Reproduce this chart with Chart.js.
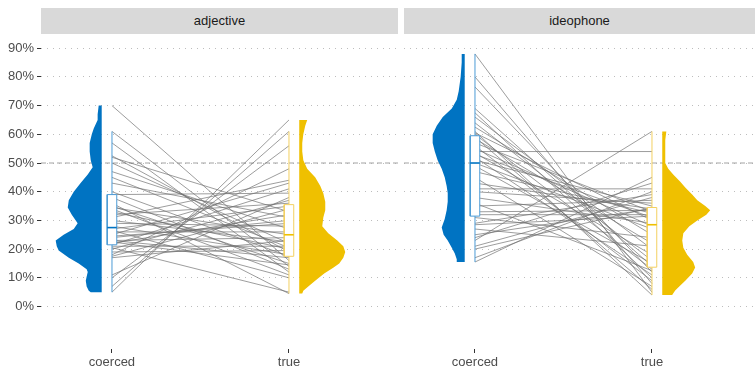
<!DOCTYPE html>
<html>
<head>
<meta charset="utf-8">
<script src="https://cdn.jsdelivr.net/npm/chart.js@4.4.0/dist/chart.umd.min.js"></script>
<style>
  body { margin: 0; background: #fff; width: 755px; height: 369px; overflow: hidden; position: relative;
         font-family: "Liberation Sans", Arial, sans-serif; }
  .strip { position: absolute; top: 8px; height: 26px; line-height: 26px; background: #d9d9d9;
           color: #1a1a1a; font-size: 13px; text-align: center; }
  canvas { position: absolute; top: 0; }
</style>
</head>
<body>
<div class="strip" style="left:41px;width:357px">adjective</div>
<div class="strip" style="left:404px;width:351px">ideophone</div>
<canvas id="left" width="398" height="369" style="left:0"></canvas>
<canvas id="right" width="351" height="369" style="left:404px"></canvas>
<script>
const categories = ['coerced', 'true'];
const panels = ['adjective', 'ideophone'];
const yTicks = [0, 10, 20, 30, 40, 50, 60, 70, 80, 90];
const refLine = 50;

// paired scores (%), coerced -> true, one entry per item
const adjCoerced = [70, 61, 57, 52.5, 52, 50, 47, 45, 43, 40, 39, 38, 36, 35, 34.5, 34, 33, 32, 31, 30, 29, 28,
  27, 26.5, 26, 25, 24.5, 24, 23, 23, 22.5, 22, 21.5, 21, 20.5, 20, 19, 18, 17.5, 17, 11, 10, 7, 5];
const adjTrue = [16, 14, 12, 19, 33, 22, 27, 20.5, 31, 17.5, 39.5, 13, 4.5, 15, 25, 11, 20, 36, 44, 22.5, 28, 18,
  35, 10, 26, 43, 29, 30, 17, 24, 14.5, 32, 41, 21, 5, 37, 19.5, 48, 34, 23, 38, 56, 61, 65];
const ideoCoerced = [88, 80, 76.5, 69, 67.5, 66, 64, 62.5, 61, 60.5, 60, 59, 58.5, 57, 56, 55, 54, 53.5, 53, 52, 51, 50,
  49, 47, 45, 43, 41, 40, 38, 36, 35, 33, 32, 31, 29, 28.5, 27, 25, 24, 23, 21, 20, 17, 15.5];
const ideoTrue = [5, 8, 12, 14, 10, 20, 16, 25, 4, 30, 13, 6, 22, 33, 9, 28, 54, 18, 31, 11, 35, 27,
  15, 32.5, 7, 34, 41, 36, 29, 12.5, 37, 33.5, 32, 24, 39, 31.5, 21, 34, 43, 61, 38, 34.5, 40, 45];

// box stats: lower whisker, q1, median, q3, upper whisker
const adjCoercedBox = [5, 21.5, 27.5, 39, 61];
const adjTrueBox = [4.5, 17.5, 25, 35.5, 61];
const ideoCoercedBox = [15.5, 31.5, 50, 59.5, 88];
const ideoTrueBox = [4, 13.7, 28.5, 34.5, 61];

// half-violin outlines: y (%) and density width (x units)
const adjCoercedVy = [70, 67, 65, 62, 60, 57, 54, 51, 48.5, 46, 43, 40, 37, 34.5, 32, 29, 27, 25, 23, 21, 19.5, 17, 15, 13, 12, 10.5, 9, 7, 5.5, 5];
const adjCoercedVw = [.017, .023, .023, .045, .056, .068, .068, .062, .051, .079, .119, .158, .186, .192, .169, .136, .158, .215, .26, .254, .243, .186, .13, .085, .079, .085, .09, .085, .073, .062];
const adjTrueVy = [65, 63, 60, 57, 54, 51, 48, 45, 42, 39.5, 36.5, 33.5, 31, 28, 25.5, 23, 21, 19, 17, 15, 13.5, 11.5, 9, 7, 5.5, 4.5];
const adjTrueVw = [.045, .034, .023, .017, .017, .023, .045, .09, .119, .136, .147, .147, .136, .13, .164, .215, .249, .26, .249, .226, .192, .141, .09, .051, .023, .017];
const ideoCoercedVy = [88, 85, 80, 75, 72, 69, 66, 63, 60, 57, 54, 51, 48, 45, 42, 39.5, 36.5, 33.5, 30.5, 27.5, 25, 23, 20.5, 18.5, 16.5, 15.5];
const ideoCoercedVw = [.017, .017, .023, .034, .045, .073, .124, .158, .181, .181, .169, .153, .13, .113, .102, .096, .096, .102, .113, .13, .119, .096, .073, .056, .045, .045];
const ideoTrueVy = [61, 58, 54, 50, 48, 46, 43.5, 41.5, 39, 37, 35, 33.5, 32, 30, 28, 25.5, 23, 20.5, 18, 15.5, 13.6, 11.5, 9, 7, 5.6, 4];
const ideoTrueVw = [.023, .017, .017, .017, .034, .062, .102, .13, .169, .198, .243, .271, .249, .198, .153, .119, .113, .119, .141, .175, .186, .169, .13, .096, .073, .056];

const BLUE = '#0073C2', YELLOW = '#EFC000';
const FONT = { family: '"Liberation Sans", Arial, sans-serif', size: 13 };

function seg(points, extra) {
  return Object.assign({ data: points, showLine: true, pointRadius: 0, borderWidth: 1, fill: false }, extra);
}

function violin(cx, side, ys, ws, color) {
  const edge = cx + side * 0.058;
  const pts = ys.map((y, i) => ({ x: edge + side * ws[i], y: y }));
  pts.unshift({ x: edge, y: ys[0] });
  pts.push({ x: edge, y: ys[ys.length - 1] });
  return seg(pts, { fill: 'shape', backgroundColor: color, borderWidth: 0, borderColor: 'rgba(0,0,0,0)', order: 3 });
}

function box(cx, s, line, mid) {
  const [lo, q1, md, q3, hi] = s, hw = 0.027;
  return [
    seg([{ x: cx - hw, y: md }, { x: cx + hw, y: md }], { borderColor: mid, borderWidth: 1.6, order: 0 }),
    seg([{ x: cx - hw, y: q1 }, { x: cx + hw, y: q1 }, { x: cx + hw, y: q3 }, { x: cx - hw, y: q3 }, { x: cx - hw, y: q1 }],
        { fill: 'shape', backgroundColor: '#fff', borderColor: line, order: 1 }),
    seg([{ x: cx, y: lo }, { x: cx, y: q1 }], { borderColor: line, order: 2 }),
    seg([{ x: cx, y: q3 }, { x: cx, y: hi }], { borderColor: line, order: 2 })
  ];
}

function makePanel(id, c, t, cBox, tBox, cVy, cVw, tVy, tVw, xMax, showY) {
  const xMin = 0.599;
  const ds = [];
  ds.push(...box(1, cBox, '#4c9bd6', BLUE));
  ds.push(...box(2, tBox, '#f3d060', YELLOW));
  ds.push(violin(1, -1, cVy, cVw, BLUE));
  ds.push(violin(2, 1, tVy, tVw, YELLOW));
  c.forEach((v, i) => ds.push(seg([{ x: 1, y: v }, { x: 2, y: t[i] }],
    { borderColor: 'rgba(110,110,110,0.68)', borderWidth: 1, order: 4 })));
  ds.push(seg([{ x: xMin, y: refLine }, { x: xMax, y: refLine }],
    { borderColor: '#a3a3a3', borderDash: [5, 3], order: 5 }));

  new Chart(document.getElementById(id), {
    type: 'scatter',
    data: { datasets: ds },
    options: {
      responsive: false,
      animation: false,
      events: [],
      layout: { padding: { top: 34, left: 0, right: 0, bottom: 0 } },
      plugins: { legend: { display: false }, tooltip: { enabled: false } },
      scales: {
        x: {
          type: 'linear', min: xMin, max: xMax,
          afterBuildTicks: s => { s.ticks = [{ value: 1 }, { value: 2 }]; },
          afterFit: s => { s.height = 20; },
          ticks: { callback: v => categories[v - 1], color: '#4d4d4d', font: FONT, padding: 2, autoSkip: false, maxRotation: 0 },
          grid: { drawOnChartArea: false, tickLength: 4, tickColor: '#333', tickWidth: 1 },
          border: { display: false }
        },
        y: {
          type: 'linear', min: -14.8, max: 94.95,
          afterBuildTicks: s => { s.ticks = yTicks.map(v => ({ value: v })); },
          afterFit: s => { s.width = showY ? 41 : 0; },
          ticks: { display: showY, callback: v => v + '%', color: '#4d4d4d', font: FONT, padding: 3 },
          grid: { color: '#bdbdbd', lineWidth: 1, drawTicks: showY, tickLength: 4, tickColor: '#333', tickBorderDash: [] },
          border: { display: false, dash: [1, 5] }
        }
      }
    }
  });
}

makePanel('left', adjCoerced, adjTrue, adjCoercedBox, adjTrueBox,
  adjCoercedVy, adjCoercedVw, adjTrueVy, adjTrueVw, 2.616, true);
makePanel('right', ideoCoerced, ideoTrue, ideoCoercedBox, ideoTrueBox,
  ideoCoercedVy, ideoCoercedVw, ideoTrueVy, ideoTrueVw, 2.582, false);
</script>
</body>
</html>
